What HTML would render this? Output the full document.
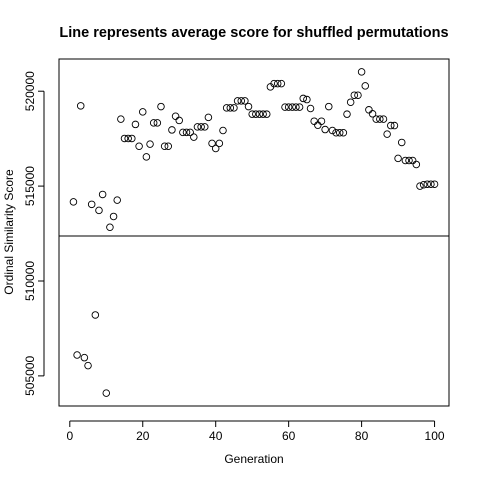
<!DOCTYPE html>
<html><head><meta charset="utf-8"><style>
body{margin:0;background:#fff;}
svg{display:block;font-family:"Liberation Sans",Arial,sans-serif;}
</style></head><body>
<svg id="chart" width="480" height="480" viewBox="0 0 480 480" xmlns="http://www.w3.org/2000/svg">
<rect width="480" height="480" fill="#fff"/>
<text x="254" y="37" text-anchor="middle" font-size="14.5" font-weight="bold">Line represents average score for shuffled permutations</text>
<text x="254" y="463" text-anchor="middle" font-size="12">Generation</text>
<text transform="translate(13,232) rotate(-90)" text-anchor="middle" font-size="12">Ordinal Similarity Score</text>
<rect x="59" y="59" width="390" height="347" fill="none" stroke="#000" stroke-width="1"/>
<g id="axes"></g>
<g id="marks"></g>
</svg>
<script>
const generations = [];
for (let i = 1; i <= 100; i++) generations.push(i);
const scores = [
514170,506100,519230,505960,505540,514040,508210,513720,514560,504090,
512830,513400,514260,518530,517510,517510,517510,518250,517100,518910,
516540,517210,518330,518330,519190,517100,517100,517960,518680,518460,
517830,517830,517830,517580,518120,518120,518120,518620,517250,516980,
517250,517930,519120,519120,519120,519490,519490,519490,519190,518790,
518790,518790,518790,518790,520230,520400,520400,520400,519160,519160,
519160,519160,519160,519620,519560,519090,518420,518210,518420,517980,
519190,517930,517810,517810,517810,518790,519420,519790,519790,521020,
520280,519020,518810,518530,518530,518530,517740,518190,518190,516460,
517300,516350,516350,516350,516140,515000,515070,515100,515100,515100];
const averageScore = 512370;
const xTicks = [0,20,40,60,80,100];
const yTicks = [505000,510000,515000,520000];

const L=59,R=449,T=59,B=406;
const xMin=-2.96,xMax=103.96,yMin=503413,yMax=521697;
function sx(v){return L+(v-xMin)/(xMax-xMin)*(R-L);}
function sy(v){return B-(v-yMin)/(yMax-yMin)*(B-T);}
const NS="http://www.w3.org/2000/svg";
function mk(tag,attrs,parent){const e=document.createElementNS(NS,tag);for(const k in attrs)e.setAttribute(k,attrs[k]);parent.appendChild(e);return e;}
const axes=document.getElementById('axes'), marks=document.getElementById('marks');

const xa=mk('line',{x1:sx(xTicks[0]),x2:sx(xTicks[xTicks.length-1]),y1:B+15,y2:B+15,stroke:'#000'},axes);


xTicks.forEach(t=>{
  const l=mk('line',{x1:sx(t),x2:sx(t),y1:B+15,y2:B+21,stroke:'#000'},axes);
  
  
  const tx=mk('text',{x:sx(t),y:B+34,'text-anchor':'middle','font-size':'12'},axes);
  tx.textContent=t;
  
  
});
const ya=mk('line',{x1:L-15,x2:L-15,y1:sy(yTicks[0]),y2:sy(yTicks[yTicks.length-1]),stroke:'#000'},axes);


yTicks.forEach(t=>{
  const l=mk('line',{x1:L-21,x2:L-15,y1:sy(t),y2:sy(t),stroke:'#000'},axes);
  
  
  const tx=mk('text',{transform:'translate('+(L-25)+','+sy(t)+') rotate(-90)','text-anchor':'middle','font-size':'12'},axes);
  tx.textContent=t;
  
  
});
const hl=mk('line',{x1:L,x2:R,y1:sy(averageScore),y2:sy(averageScore),stroke:'#000'},marks);


scores.forEach((v,i)=>{
  const c=mk('circle',{cx:sx(generations[i]),cy:sy(v),r:3.3,fill:'none',stroke:'#000','stroke-width':'0.9'},marks);
  
  
});
</script>
</body></html>
